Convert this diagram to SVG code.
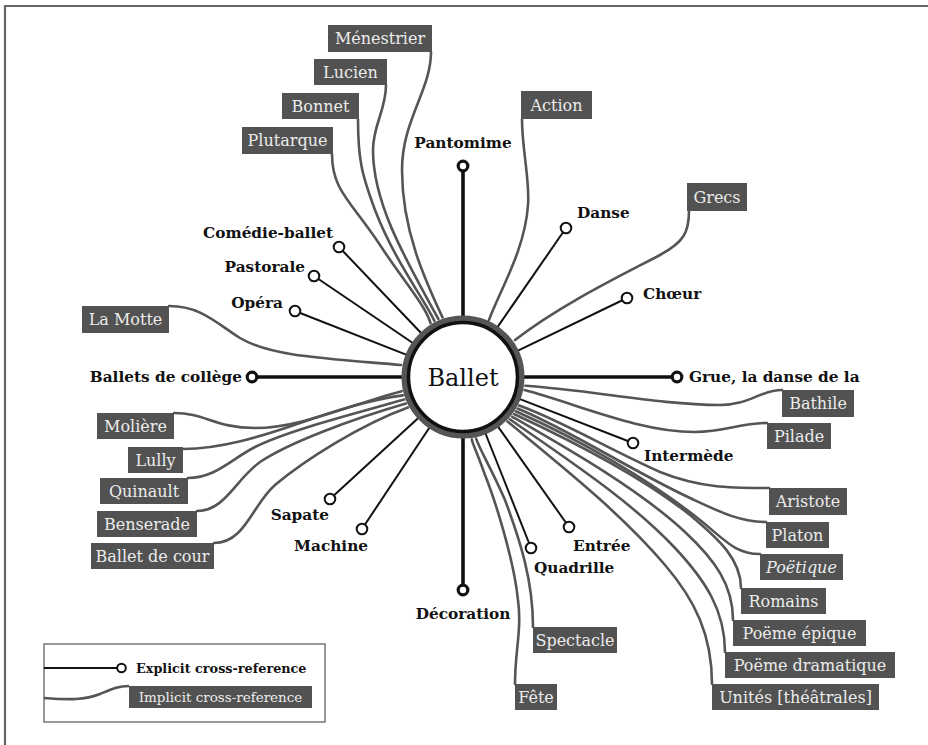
<svg xmlns="http://www.w3.org/2000/svg" width="928" height="745" viewBox="0 0 928 745">
<style>
.imp{fill:none;stroke:#555;stroke-width:2.6;stroke-linecap:round}
.exp{stroke:#111;stroke-width:2}
.expT{stroke:#111;stroke-width:3.6}
.dot{fill:#fff;stroke:#111;stroke-width:2}
.dotT{fill:#fff;stroke:#111;stroke-width:3.2}
.box{fill:#525252}
.bt{font-family:"DejaVu Serif","Liberation Serif",serif;font-size:16px;fill:#ececec;text-anchor:middle}
.lb{font-family:"DejaVu Serif","Liberation Serif",serif;font-size:15.3px;font-weight:bold;fill:#111}
</style>
<rect x="0" y="0" width="928" height="745" fill="#fff"/>
<path d="M5,745 V6 H928" fill="none" stroke="#666" stroke-width="2.2"/>

<g id="connectors">
  <path class="imp" d="M332,154 C332,190 350,200 380,245 C405,283 425,305 430.5,323"/>
  <path class="imp" d="M358,119 C358,160 362,175 375,210 C395,262 425,300 434.4,320.9"/>
  <path class="imp" d="M386,85 C386,110 373,125 373,150 C373,200 400,250 438.4,319"/>
  <path class="imp" d="M431,52 C431,90 402,120 402,170 C402,230 425,280 442.5,317.4"/>
  <path class="imp" d="M522,119 C522,150 530,180 528,205 C525,250 500,290 489,320"/>
  <path class="imp" d="M689,211 C689,232 684,242 660,255 C620,276 560,305 515,340"/>
  <path class="imp" d="M169,306 C200,306 215,322 240,338 C270,356 320,358 401,365"/>
  <path class="imp" d="M174,413 C205,413 215,428 255,428 C300,428 350,405 401.6,391.2"/>
  <path class="imp" d="M183,449 C220,449 260,437 300,423 C340,409 370,400 402.8,395.4"/>
  <path class="imp" d="M188,478 C215,478 230,460 255,447 C290,430 350,415 404.2,399.6"/>
  <path class="imp" d="M197,511 C225,511 235,480 260,462 C290,442 350,420 405.9,403.6"/>
  <path class="imp" d="M214,543 C245,543 252,505 275,485 C305,460 360,425 407.9,407.5"/>
  <path class="imp" d="M782,390 C760,390 750,405 720,405 C660,405 590,390 525.4,385.8"/>
  <path class="imp" d="M767,423 C740,423 725,432 695,432 C640,432 580,405 524.6,390.1"/>
  <path class="imp" d="M769,488 C730,488 700,488 660,472 C610,450 560,420 519.1,405.6"/>
  <path class="imp" d="M766,522 C740,522 720,512 690,498 C630,470 570,430 517.6,408.5"/>
  <path class="imp" d="M760,554 C735,554 725,540 700,520 C650,480 580,440 515.8,411.3"/>
  <path class="imp" d="M741,588 C741,560 720,540 690,515 C640,475 570,440 514,414"/>
  <path class="imp" d="M733,620 C733,585 715,560 685,532 C640,490 570,450 512,416.6"/>
  <path class="imp" d="M725,652 C725,610 705,580 675,548 C630,500 565,458 509.8,419.2"/>
  <path class="imp" d="M712,684 C712,635 695,600 665,565 C620,512 560,465 507.5,421.5"/>
  <path class="imp" d="M533,627 C533,580 520,540 505,500 C492,470 480,450 476.1,438.6"/>
  <path class="imp" d="M515,684 C515,650 522,630 518,600 C514,560 495,500 485,475 C478,455 473,445 471.8,439.4"/>
  <line class="expT" x1="463" y1="330" x2="463" y2="166"/>
  <line class="expT" x1="410" y1="377" x2="252" y2="377"/>
  <line class="expT" x1="516" y1="377" x2="677" y2="377"/>
  <line class="expT" x1="463" y1="424" x2="463" y2="590"/>
  <line class="exp" x1="495.4" y1="330.1" x2="566" y2="228"/>
  <line class="exp" x1="514.4" y1="352.3" x2="627" y2="298"/>
  <line class="exp" x1="423.7" y1="335.8" x2="339" y2="247"/>
  <line class="exp" x1="415.8" y1="345" x2="314" y2="276"/>
  <line class="exp" x1="409.9" y1="356.1" x2="295" y2="311"/>
  <line class="exp" x1="516.1" y1="397.6" x2="633" y2="443"/>
  <line class="exp" x1="495.9" y1="423.6" x2="569" y2="527"/>
  <line class="exp" x1="484.1" y1="430" x2="531" y2="548"/>
  <line class="exp" x1="431.5" y1="424.5" x2="362" y2="529"/>
  <line class="exp" x1="421" y1="415.5" x2="330" y2="499"/>
</g>

<g id="ballet">
  <circle cx="463" cy="377" r="58.5" fill="none" stroke="#555" stroke-width="6"/>
  <circle cx="463" cy="377" r="54.5" fill="#fff" stroke="#111" stroke-width="3.5"/>
  <text x="463" y="385.5" font-family="DejaVu Serif, Liberation Serif, serif" font-size="24" fill="#111" text-anchor="middle">Ballet</text>
</g>

<g id="pantomime"><circle class="dotT" cx="463" cy="166" r="4.8"/><text class="lb" x="463" y="148" text-anchor="middle">Pantomime</text></g>
<g id="ballets-de-college"><circle class="dotT" cx="252" cy="377" r="4.8"/><text class="lb" x="242" y="382" text-anchor="end">Ballets de collège</text></g>
<g id="grue"><circle class="dotT" cx="677" cy="377" r="4.8"/><text class="lb" x="689" y="382">Grue, la danse de la</text></g>
<g id="decoration"><circle class="dotT" cx="463" cy="590" r="4.8"/><text class="lb" x="463" y="619" text-anchor="middle">Décoration</text></g>
<g id="danse"><circle class="dot" cx="566" cy="228" r="5.3"/><text class="lb" x="577" y="218">Danse</text></g>
<g id="choeur"><circle class="dot" cx="627" cy="298" r="5.3"/><text class="lb" x="643" y="299">Chœur</text></g>
<g id="comedie-ballet"><circle class="dot" cx="339" cy="247" r="5.3"/><text class="lb" x="333" y="238" text-anchor="end">Comédie-ballet</text></g>
<g id="pastorale"><circle class="dot" cx="314" cy="276" r="5.3"/><text class="lb" x="305" y="272" text-anchor="end">Pastorale</text></g>
<g id="opera"><circle class="dot" cx="295" cy="311" r="5.3"/><text class="lb" x="283" y="308" text-anchor="end">Opéra</text></g>
<g id="intermede"><circle class="dot" cx="633" cy="443" r="5.3"/><text class="lb" x="644" y="461">Intermède</text></g>
<g id="entree"><circle class="dot" cx="569" cy="527" r="5.3"/><text class="lb" x="573" y="551">Entrée</text></g>
<g id="quadrille"><circle class="dot" cx="531" cy="548" r="5.3"/><text class="lb" x="534" y="573">Quadrille</text></g>
<g id="machine"><circle class="dot" cx="362" cy="529" r="5.3"/><text class="lb" x="368" y="551" text-anchor="end">Machine</text></g>
<g id="sapate"><circle class="dot" cx="330" cy="499" r="5.3"/><text class="lb" x="329" y="520" text-anchor="end">Sapate</text></g>

<g id="menestrier"><rect class="box" x="328" y="25" width="104" height="27"/><text class="bt" x="380" y="44">Ménestrier</text></g>
<g id="lucien"><rect class="box" x="314" y="59" width="73" height="26"/><text class="bt" x="350.5" y="78">Lucien</text></g>
<g id="bonnet"><rect class="box" x="282" y="93" width="77" height="26"/><text class="bt" x="320.5" y="112">Bonnet</text></g>
<g id="plutarque"><rect class="box" x="242" y="127" width="91" height="27"/><text class="bt" x="287.5" y="146">Plutarque</text></g>
<g id="action"><rect class="box" x="521" y="91" width="71" height="28"/><text class="bt" x="556.5" y="111">Action</text></g>
<g id="grecs"><rect class="box" x="687" y="183" width="60" height="28"/><text class="bt" x="717" y="203">Grecs</text></g>
<g id="la-motte"><rect class="box" x="82" y="306" width="87" height="27"/><text class="bt" x="125.5" y="325">La Motte</text></g>
<g id="moliere"><rect class="box" x="97" y="413" width="77" height="26"/><text class="bt" x="135.5" y="432">Molière</text></g>
<g id="lully"><rect class="box" x="128" y="447" width="55" height="26"/><text class="bt" x="155.5" y="466">Lully</text></g>
<g id="quinault"><rect class="box" x="100" y="478" width="88" height="26"/><text class="bt" x="144" y="497">Quinault</text></g>
<g id="benserade"><rect class="box" x="97" y="511" width="100" height="26"/><text class="bt" x="147" y="530">Benserade</text></g>
<g id="ballet-de-cour"><rect class="box" x="91" y="543" width="123" height="26"/><text class="bt" x="152.5" y="562">Ballet de cour</text></g>
<g id="bathile"><rect class="box" x="782" y="390" width="72" height="27"/><text class="bt" x="818" y="409">Bathile</text></g>
<g id="pilade"><rect class="box" x="767" y="423" width="64" height="26"/><text class="bt" x="799" y="442">Pilade</text></g>
<g id="aristote"><rect class="box" x="769" y="488" width="78" height="27"/><text class="bt" x="808" y="507">Aristote</text></g>
<g id="platon"><rect class="box" x="766" y="522" width="63" height="26"/><text class="bt" x="797.5" y="541">Platon</text></g>
<g id="poetique"><rect class="box" x="760" y="554" width="83" height="26"/><text class="bt" x="801.5" y="573" font-style="italic">Poëtique</text></g>
<g id="romains"><rect class="box" x="741" y="588" width="85" height="26"/><text class="bt" x="783.5" y="607">Romains</text></g>
<g id="poeme-epique"><rect class="box" x="733" y="620" width="133" height="26"/><text class="bt" x="799.5" y="639">Poëme épique</text></g>
<g id="poeme-dramatique"><rect class="box" x="725" y="652" width="170" height="26"/><text class="bt" x="810" y="671">Poëme dramatique</text></g>
<g id="unites"><rect class="box" x="712" y="684" width="167" height="26"/><text class="bt" x="795.5" y="703">Unités [théâtrales]</text></g>
<g id="spectacle"><rect class="box" x="533" y="627" width="84" height="26"/><text class="bt" x="575" y="646">Spectacle</text></g>
<g id="fete"><rect class="box" x="515" y="684" width="42" height="26"/><text class="bt" x="536" y="703">Fête</text></g>

<g id="legend">
  <rect x="44" y="644" width="281" height="78" fill="#fff" stroke="#777" stroke-width="1.5"/>
  <line x1="44" y1="668" x2="117" y2="668" stroke="#111" stroke-width="1.8"/>
  <circle cx="121.5" cy="668" r="4.3" fill="#fff" stroke="#111" stroke-width="2"/>
  <text x="136" y="673" font-family="DejaVu Serif, Liberation Serif, serif" font-size="12.8" font-weight="bold" fill="#111">Explicit cross-reference</text>
  <path d="M44,698 C70,700 85,700 100,694 C112,689 118,686 129,686" fill="none" stroke="#555" stroke-width="2.6"/>
  <rect class="box" x="129" y="686" width="183" height="22"/>
  <text x="220.5" y="702" font-family="DejaVu Serif, Liberation Serif, serif" font-size="13.5" fill="#ececec" text-anchor="middle">Implicit cross-reference</text>
</g>
</svg>
